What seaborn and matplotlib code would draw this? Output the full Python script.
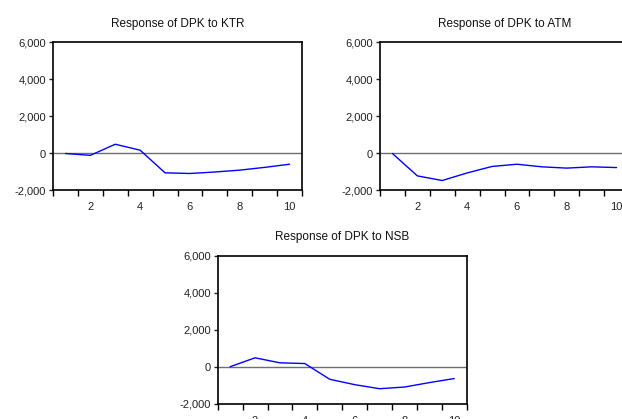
import numpy as np
import pandas as pd
import matplotlib
matplotlib.use('Agg')
from matplotlib import pyplot as plt
from matplotlib.ticker import FixedLocator, FuncFormatter
import seaborn as sns

periods = [1, 2, 3, 4, 5, 6, 7, 8, 9, 10]
resp_ktr = [0, -100, 500, 180, -1045, -1080, -1000, -900, -750, -580]
resp_atm = [0, -1210, -1460, -1050, -700, -580, -720, -790, -720, -760]
resp_nsb = [0, 480, 210, 170, -680, -970, -1190, -1100, -860, -640]
titles = ['Response of DPK to KTR', 'Response of DPK to ATM', 'Response of DPK to NSB']
y_ticks = [-2000, 0, 2000, 4000, 6000]
x_labels = [2, 4, 6, 8, 10]

W, H = 622, 419
sns.set_style("ticks")
plt.rcParams['font.family'] = ['Liberation Sans', 'DejaVu Sans']

fig = plt.figure(figsize=(W / 100, H / 100), dpi=100)

# axes boxes in pixels: left, top, width, height
boxes = [(53, 42.5, 249, 148), (380, 42.5, 249, 148), (217.7, 255.7, 249, 148)]
series = [resp_ktr, resp_atm, resp_nsb]

for (left, top, w, h), vals, title in zip(boxes, series, titles):
    ax = fig.add_axes([left / W, (H - top - h) / H, w / W, h / H])
    df = pd.DataFrame({'period': periods, 'response': vals})
    ax.axhline(0, color='#6e6e6e', lw=1.0, zorder=1)
    sns.lineplot(data=df, x='period', y='response', ax=ax, color='#0000ff', lw=1.0, zorder=2)
    ax.set_xlim(0.5, 10.5)
    ax.set_ylim(-2000, 6000)
    ax.set_xlabel('')
    ax.set_ylabel('')
    ax.set_yticks(y_ticks)
    ax.yaxis.set_major_formatter(FuncFormatter(lambda v, p: f'{int(v):,}'))
    ax.set_xticks(x_labels)
    ax.xaxis.set_minor_locator(FixedLocator(np.arange(0.5, 11, 1.0)))
    ax.tick_params(axis='x', which='major', length=0, pad=8.5, labelsize=8, colors='#222222')
    ax.tick_params(axis='x', which='minor', length=4, width=1.0, direction='out', color='black')
    ax.tick_params(axis='y', which='major', length=3, width=1.0, direction='out', labelsize=8,
                   pad=2, colors='#222222')
    for s in ax.spines.values():
        s.set_visible(True)
        s.set_color('black')
        s.set_linewidth(1.2)
    ax.set_title(title, fontsize=8.5, pad=11, color='#111111')

fig.savefig('out.png', dpi=100)
